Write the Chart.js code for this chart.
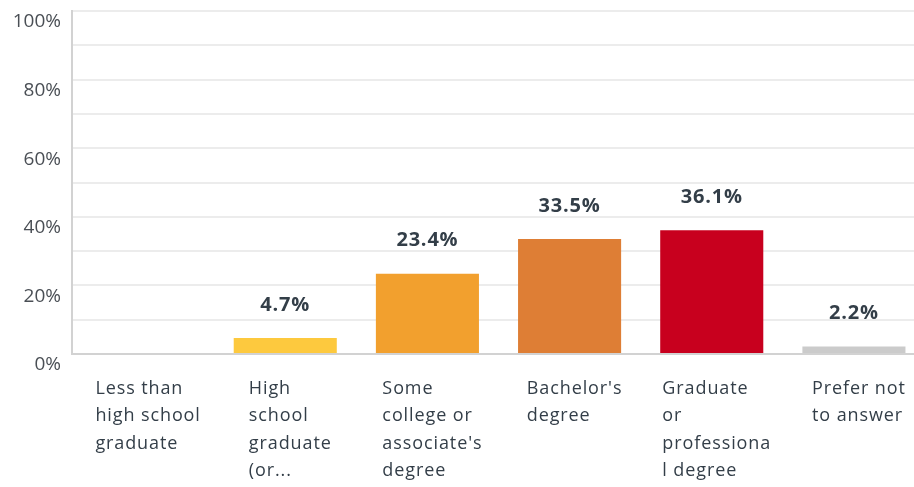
<!DOCTYPE html>
<html>
<head>
<meta charset="utf-8">
<script src="https://cdn.jsdelivr.net/npm/chart.js@4/dist/chart.umd.min.js"></script>
<style>
  html, body { margin: 0; padding: 0; background: #fff; overflow: hidden; }
  #wrap { width: 925px; height: 487px; }
</style>
</head>
<body>
<div id="wrap"><canvas id="educationChart"></canvas></div>
<script>
const categories = [
  ["Less than", "high school", "graduate"],
  ["High", "school", "graduate", "(or..."],
  ["Some", "college or", "associate's", "degree"],
  ["Bachelor's", "degree"],
  ["Graduate", "or", "professiona", "l degree"],
  ["Prefer not", "to answer"],
];
const percents = [0, 4.7, 23.4, 33.5, 36.1, 2.2];
const barColors = ["#f7c244", "#fdc93e", "#f2a02e", "#de7e35", "#c8001e", "#cbcbcb"];

const FONT = "'Open Sans', sans-serif";
const TEXT = "#333e48";

// value labels above bars and left-aligned wrapped category labels
const labelPlugin = {
  id: "labels",
  afterDatasetsDraw(chart) {
    const ctx = chart.ctx;
    const meta = chart.getDatasetMeta(0);
    const xScale = chart.scales.x;
    const yScale = chart.scales.y;
    ctx.save();

    ctx.letterSpacing = "0.8px";
    ctx.font = "bold 20px " + FONT;
    ctx.fillStyle = TEXT;
    ctx.textAlign = "center";
    ctx.textBaseline = "middle";
    meta.data.forEach((bar, i) => {
      if (!percents[i]) return;
      ctx.fillText(percents[i].toFixed(1) + "%", bar.x, bar.y - 33);
    });

    ctx.letterSpacing = "0.9px";
    ctx.font = "18px " + FONT;
    ctx.textAlign = "left";
    categories.forEach((lines, i) => {
      const cx = xScale.getPixelForValue(i);
      const w = Math.max(...lines.map((l) => ctx.measureText(l).width));
      const left = cx - w / 2 + 5;
      lines.forEach((line, j) => {
        ctx.fillText(line, left, yScale.bottom + 35 + j * 27.3);
      });
    });
    ctx.restore();
  },
};

new Chart(document.getElementById("educationChart"), {
  type: "bar",
  data: {
    labels: categories.map((c) => c.join(" ")),
    datasets: [
      {
        data: percents,
        backgroundColor: barColors,
        barPercentage: 0.725,
        categoryPercentage: 1,
      },
    ],
  },
  options: {
    responsive: true,
    maintainAspectRatio: false,
    animation: false,
    layout: { padding: { top: 11, right: 0, left: 0, bottom: 0 } },
    plugins: { legend: { display: false }, tooltip: { enabled: false } },
    scales: {
      x: {
        grid: { display: false },
        border: { display: true, color: "#d2d2d2", width: 2 },
        ticks: { display: false },
        afterFit(scale) {
          scale.height = 133;
          scale.paddingLeft = 0;
          scale.paddingRight = 0;
        },
      },
      y: {
        min: 0,
        max: 100,
        afterFit(scale) {
          scale.width = 72;
          scale.paddingTop = 0;
          scale.paddingBottom = 0;
        },
        grid: { color: "#ececec", lineWidth: 2, drawTicks: false },
        border: { display: true, color: "#d2d2d2", width: 2 },
        ticks: {
          stepSize: 10,
          padding: 11,
          labelOffset: 11,
          color: "#4a4f55",
          font: { family: FONT, size: 19 },
          callback: (v) => (v % 20 === 0 ? v + "%" : ""),
        },
      },
    },
  },
  plugins: [labelPlugin],
});
</script>
</body>
</html>
